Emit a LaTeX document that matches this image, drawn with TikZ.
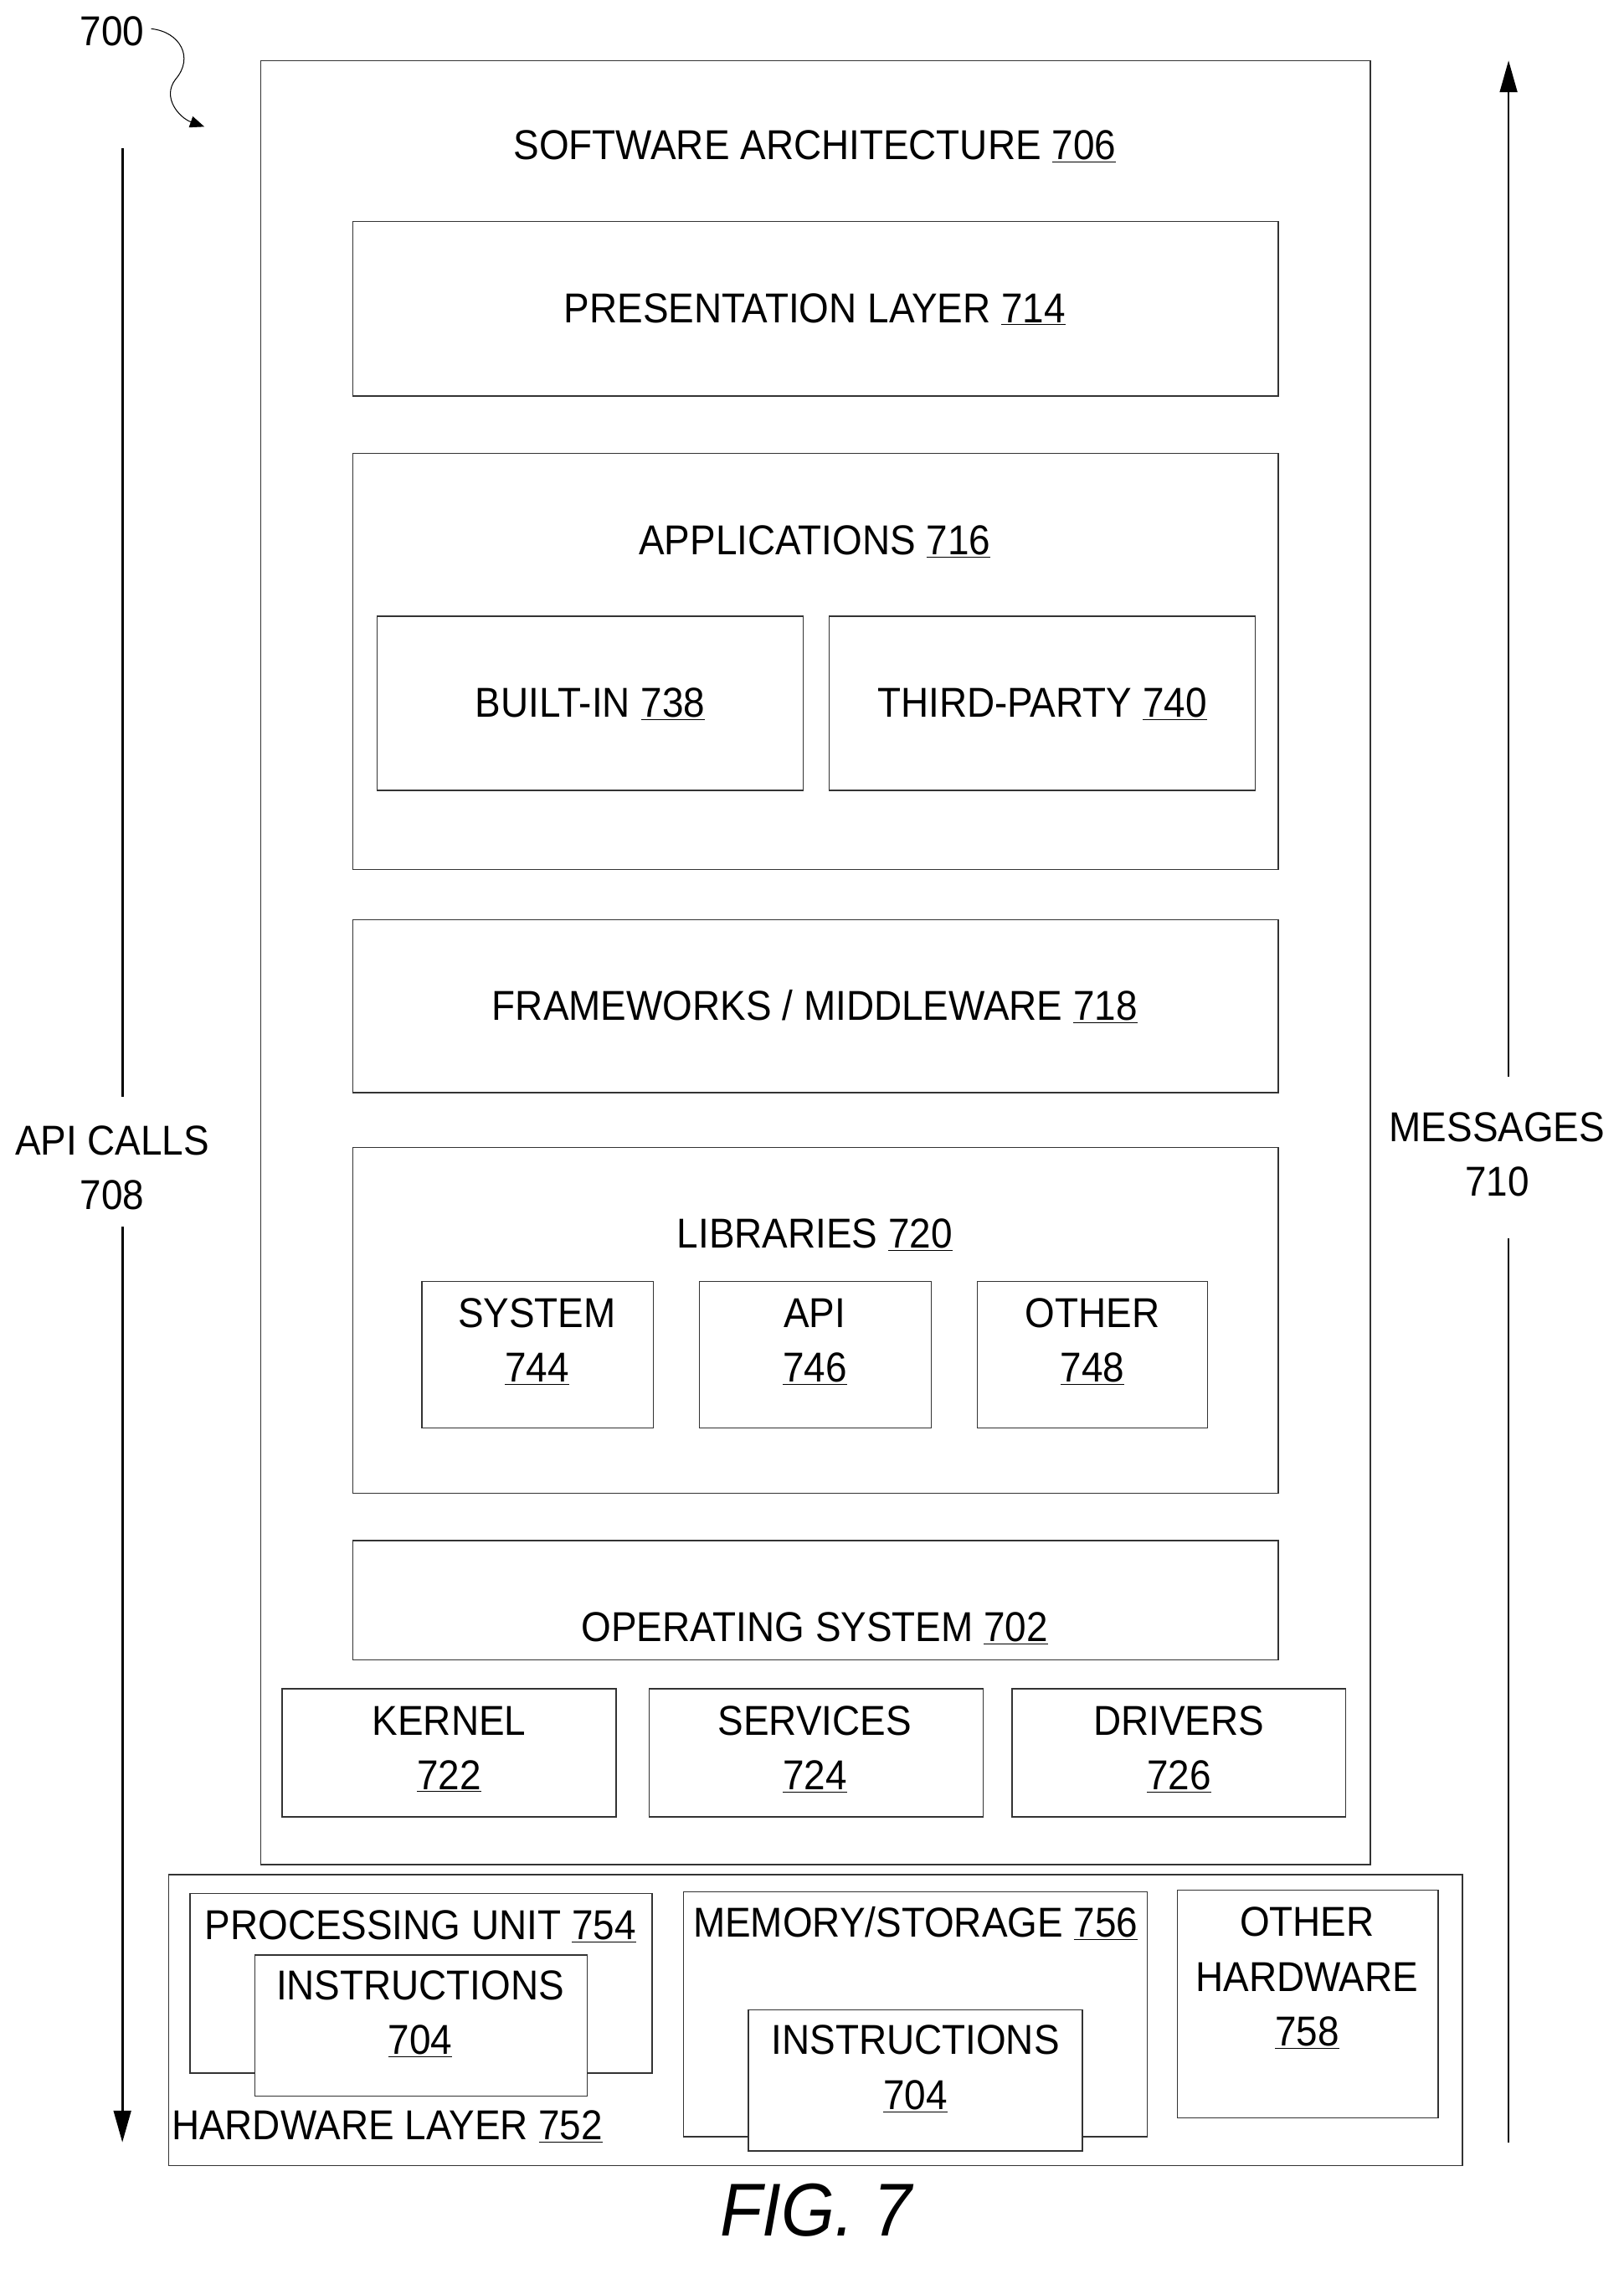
\documentclass[tikz,border=0pt]{standalone}
\usepackage{fontspec}
\setmainfont{Liberation Sans}[FakeStretch=0.92]
\usetikzlibrary{arrows.meta}
\begin{document}
\begin{tikzpicture}[x=1pt,y=-1pt,
  bx/.style={draw=black!80,line width=0.8pt},
  t/.style={font=\fontsize{29}{38}\selectfont,align=center,inner sep=0pt},
  arr/.style={line width=1.6pt,-{Triangle[length=22pt,width=12pt]}}]
\useasboundingbox (0,0) rectangle (1128,1576);
\node[t] (n700) at (78,22) {700};
\coordinate (sq) at (105,20);
\coordinate (sqe) at (142,88);
\draw[line width=0.6pt,-{Triangle[length=10pt,width=8pt]}] (sq) .. controls (125,22) and (135,40) .. (122,55) .. controls (112,68) and (125,82) .. (sqe);
\draw[bx] (181,42) rectangle (952,1295);
\node[t] (sa) at (566,102) {SOFTWARE ARCHITECTURE \underline{706}};
\draw[bx] (245,154) rectangle (888,275);
\node[t] (pl) at (566,215) {PRESENTATION LAYER \underline{714}};
\draw[bx] (245,315) rectangle (888,604);
\node[t] (ap) at (566,376) {APPLICATIONS \underline{716}};
\draw[bx] (262,428) rectangle (558,549);
\node[t] (bi) at (410,489) {BUILT-IN \underline{738}};
\draw[bx] (576,428) rectangle (872,549);
\node[t] (tp) at (724,489) {THIRD-PARTY \underline{740}};
\draw[bx] (245,639) rectangle (888,759);
\node[t] (fw) at (566,699) {FRAMEWORKS / MIDDLEWARE \underline{718}};
\draw[bx] (245,797) rectangle (888,1037);
\node[t] (lib) at (566,858) {LIBRARIES \underline{720}};
\draw[bx] (293,890) rectangle (454,992);
\node[t] (sys) at (373,932) {SYSTEM\\\underline{744}};
\draw[bx] (486,890) rectangle (647,992);
\node[t] (api) at (566,932) {API\\\underline{746}};
\draw[bx] (679,890) rectangle (839,992);
\node[t] (oth) at (759,932) {OTHER\\\underline{748}};
\draw[bx] (245,1070) rectangle (888,1153);
\node[t] (os) at (566,1131) {OPERATING SYSTEM \underline{702}};
\draw[bx] (196,1173) rectangle (428,1262);
\node[t] (k) at (312,1215) {KERNEL\\\underline{722}};
\draw[bx] (451,1173) rectangle (683,1262);
\node[t] (s) at (566,1215) {SERVICES\\\underline{724}};
\draw[bx] (703,1173) rectangle (935,1262);
\node[t] (d) at (819,1215) {DRIVERS\\\underline{726}};
\draw[bx] (117,1302) rectangle (1016,1504);
\node[t] (hw) at (269,1477) {HARDWARE LAYER \underline{752}};
\draw[bx] (132,1315) rectangle (453,1440);
\node[t] (pu) at (292,1338) {PROCESSING UNIT \underline{754}};
\draw[bx,fill=white] (177,1358) rectangle (408,1456);
\node[t] (i1) at (292,1399) {INSTRUCTIONS\\\underline{704}};
\draw[bx] (475,1314) rectangle (797,1484);
\node[t] (ms) at (636,1336) {MEMORY/STORAGE \underline{756}};
\draw[bx,fill=white] (520,1396) rectangle (752,1494);
\node[t] (i2) at (636,1437) {INSTRUCTIONS\\\underline{704}};
\draw[bx] (818,1313) rectangle (999,1471);
\node[t] (oh) at (908,1374) {OTHER\\HARDWARE\\\underline{758}};
\node[t] (ac) at (78,811) {API CALLS\\708};
\coordinate (a1) at (85,103); \coordinate (a2) at (85,762);
\coordinate (a3) at (85,852); \coordinate (a4) at (85,1488);
\draw[line width=1.6pt] (a1) -- (a2);
\draw[arr] (a3) -- (a4);
\node[t] (msg) at (1040,802) {MESSAGES\\710};
\coordinate (m1) at (1048,1488); \coordinate (m2) at (1048,860);
\coordinate (m3) at (1048,748); \coordinate (m4) at (1048,42);
\draw[line width=1.6pt] (m1) -- (m2);
\draw[arr] (m3) -- (m4);
\node[t,font=\fontsize{52}{60}\selectfont\itshape] (fig) at (567,1535) {FIG. 7};
\end{tikzpicture}
\end{document}
